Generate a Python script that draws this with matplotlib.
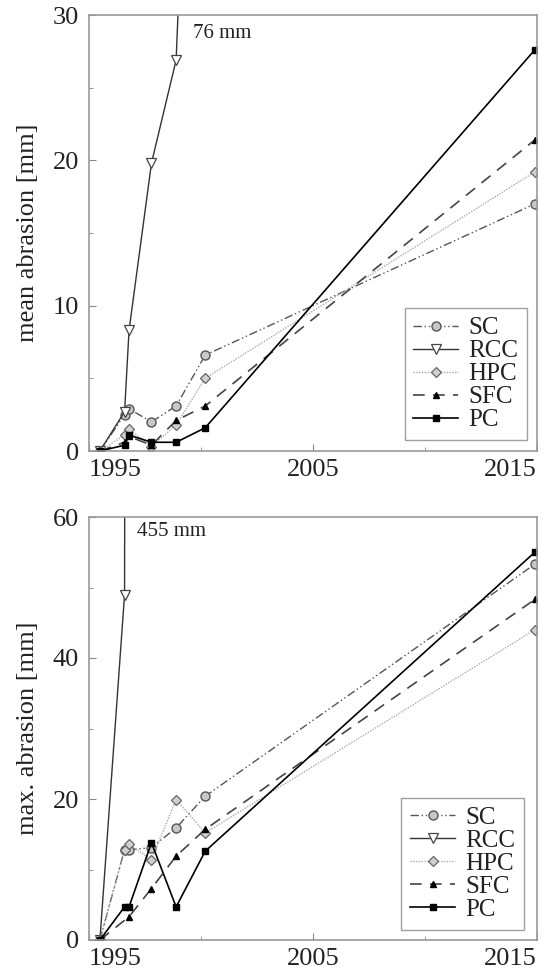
import numpy as np
import matplotlib
matplotlib.use("Agg")
import matplotlib.pyplot as plt
from matplotlib.ticker import MultipleLocator

plt.rcParams['font.family'] = ['Liberation Serif', 'DejaVu Serif']
plt.rcParams['mathtext.fontset'] = 'stix'

# measurement dates (decimal years)
dates = [1995.5, 1996.6, 1996.8, 1997.8, 1998.9, 2000.2, 2014.9]

# mean abrasion [mm]
mean_SC = [0, 2.5, 2.9, 2.0, 3.1, 6.6, 17.0]
mean_RCC = [0, 2.7, 8.3, 19.8, 26.9, 76, None]
mean_HPC = [0, 1.1, 1.5, 0.3, 1.8, 5.0, 19.2]
mean_SFC = [0, 0.6, 1.0, 0.4, 2.1, 3.1, 21.4]
mean_PC = [0, 0.4, 1.1, 0.6, 0.6, 1.6, 27.6]

# max. abrasion [mm]
max_SC = [0, 12.8, 12.8, 13.1, 15.9, 20.4, 53.3]
max_RCC = [0, 49, 455, None, None, None, None]
max_HPC = [0, 12.8, 13.6, 11.4, 19.9, 15.2, 44.0]
max_SFC = [0, None, 3.3, 7.3, 11.9, 15.7, 48.3]
max_PC = [0, 4.7, 4.7, 13.8, 4.7, 12.6, 55.0]

labels = ["SC", "RCC", "HPC", "SFC", "PC"]
xticks = [1995, 2005, 2015]

styles = {
    "SC": dict(color="#555555", ls=(0, (6, 2, 1, 2, 1, 2)), lw=1.0, marker="o",
               ms=6.5, mfc="#c8c8c8", mec="#555555", mew=1.0),
    "RCC": dict(color="#333333", ls="-", lw=1.0, marker="v", ms=6.5,
                mfc="white", mec="#444444", mew=0.9),
    "HPC": dict(color="#aaaaaa", ls=(0, (1, 1)), lw=1.0, marker="D", ms=5.5,
                mfc="#d0d0d0", mec="#666666", mew=0.9),
    "SFC": dict(color="#444444", ls=(0, (7, 5)), lw=1.2, marker="^", ms=5,
                mfc="black", mec="black"),
    "PC": dict(color="black", ls="-", lw=1.2, marker="s", ms=4.5,
               mfc="black", mec="black"),
}

W, H = 546, 974
fig = plt.figure(figsize=(W / 100, H / 100), dpi=100)

def ax_rect(l, r, t, b):
    return [l / W, 1 - b / H, (r - l) / W, (b - t) / H]

ax1 = fig.add_axes(ax_rect(88.7, 537, 15, 451))
ax2 = fig.add_axes(ax_rect(88.7, 537, 517, 940))

def draw(ax, series, ylim, ylabel, ymajor, yminor, legend_anchor):
    for lab, vals in zip(labels, series):
        xs = [d for d, v in zip(dates, vals) if v is not None]
        ys = [v for v in vals if v is not None]
        ax.plot(xs, ys, label=lab, **styles[lab])
    ax.set_xlim(1995, 2015)
    ax.set_ylim(*ylim)
    ax.set_xticks(xticks)
    ax.xaxis.set_minor_locator(MultipleLocator(5))
    ax.yaxis.set_major_locator(MultipleLocator(ymajor))
    ax.yaxis.set_minor_locator(MultipleLocator(yminor))
    ax.tick_params(which="both", direction="in", colors="#888888",
                   labelcolor="#222222", labelsize=19, top=False, right=False)
    ax.tick_params(which="major", length=5)
    ax.tick_params(which="minor", length=3)
    ax.tick_params(axis="x", pad=6)
    ax.tick_params(axis="y", pad=7)
    tl = ax.get_xticklabels()
    tl[0].set_ha("left")
    tl[-1].set_ha("right")
    for s in ax.spines.values():
        s.set_color("#999999")
        s.set_linewidth(1.2)
    ax.set_ylabel(ylabel, fontsize=19, color="#222222", labelpad=10)
    leg = ax.legend(loc="lower right", bbox_to_anchor=legend_anchor,
                    borderaxespad=0, fontsize=18, frameon=True, fancybox=False,
                    handlelength=1.8, labelspacing=0.02, handletextpad=0.4,
                    borderpad=0.35)
    leg.get_frame().set_edgecolor("#888888")
    leg.get_frame().set_linewidth(1.0)
    for t in leg.get_texts():
        t.set_color("#222222")

draw(ax1, [mean_SC, mean_RCC, mean_HPC, mean_SFC, mean_PC], (0, 30),
     "mean abrasion [mm]", 10, 5, (0.978, 0.025))
draw(ax2, [max_SC, max_RCC, max_HPC, max_SFC, max_PC], (0, 60),
     "max. abrasion [mm]", 20, 10, (0.971, 0.024))

ax1.text(1999.65, 28.7, "76 mm", fontsize=15, color="#222222", va="center")
ax2.text(1997.15, 57.9, "455 mm", fontsize=15, color="#222222", va="center")

fig.savefig("out.png", dpi=100)
